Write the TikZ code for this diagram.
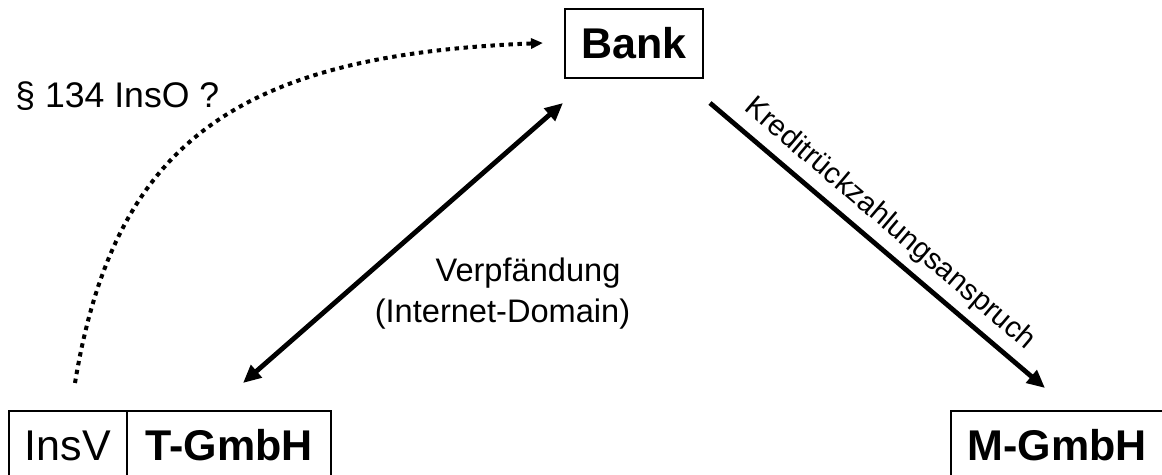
\documentclass[tikz,border=0pt]{standalone}
\usepackage{fontspec}
\setmainfont{Liberation Sans}
\usetikzlibrary{arrows.meta}
\begin{document}
\begin{tikzpicture}[x=0.5pt,y=-0.5pt,
    party/.style={draw, line width=1pt, inner sep=0pt, minimum height=34.5pt,
      font=\fontsize{21.5}{26}\selectfont},
    bigarrow/.style={line width=2.4pt, -{Triangle[length=9pt,width=8pt]}},
    botharrow/.style={line width=2.4pt, {Triangle[length=9pt,width=8pt]}-{Triangle[length=9pt,width=8pt]}},
    dotarrow/.style={line width=2pt, dash pattern=on 2.2pt off 2.3pt,
      -{Triangle[length=6pt,width=5pt]}},
    note/.style={inner sep=0pt, font=\fontsize{16.3}{20}\selectfont}]
      \useasboundingbox (0,0) rectangle (1162,475);
      \clip (0,0) rectangle (1162,475);
      %parties
      \node[party, minimum width=69pt] (bank) at (634,43.5) {\bfseries Bank};
      \node[party, minimum width=59pt] (insv) at (68,445.5) {InsV};
      \node[party, minimum width=102pt] (tgmbh) at (229,445.5) {\bfseries T-GmbH};
      \node[party, minimum width=106pt] (mgmbh) at (1057,445.5) {\bfseries M-GmbH};
      %arrow ends
      \coordinate (dlo) at (243,383); \coordinate (dhi) at (563,103);
      \coordinate (kst) at (710,103); \coordinate (ken) at (1045,388);
      \coordinate (pst) at (75,383); \coordinate (pen) at (543,43);
      %arrows
      \draw[botharrow] (dlo)--(dhi);
      \draw[bigarrow] (kst)--(ken)
        node[pos=0.49, above=4pt, sloped, inner sep=0pt, font=\fontsize{14.7}{18}\selectfont] {Kreditrückzahlungsanspruch};
      \draw[dotarrow] (pst) .. controls (115,140) and (240,55) .. (pen);
      %texts
      \node[note, anchor=base west, font=\fontsize{17.8}{21}\selectfont] (insotext) at (15,107.5) {§ 134 InsO ?};
      \node[note, anchor=base] (vtext) at (528,282) {Verpfändung};
      \node[note, anchor=base] (dtext) at (502.5,323) {(Internet-Domain)};
    \end{tikzpicture}
\end{document}
